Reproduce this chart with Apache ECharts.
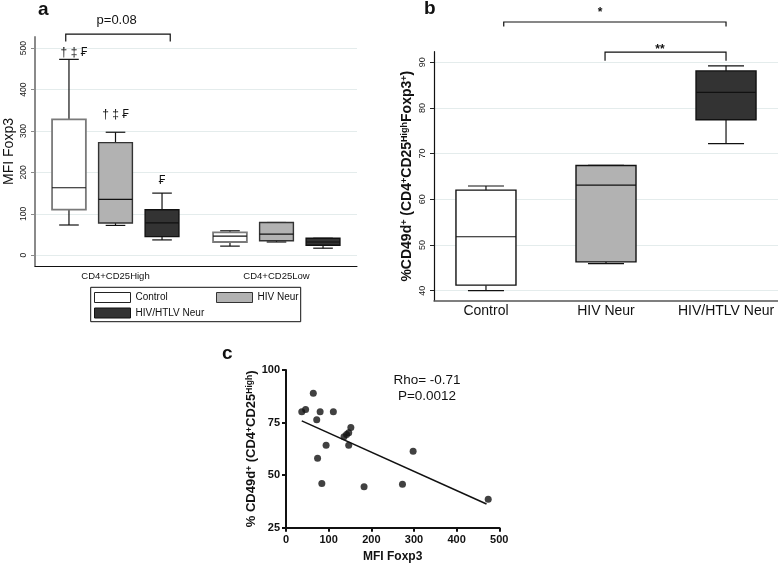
<!DOCTYPE html>
<html><head><meta charset="utf-8">
<script src="https://cdn.jsdelivr.net/npm/echarts@6/dist/echarts.min.js"></script>
<style>html,body{margin:0;padding:0;background:#fff}#c{width:778px;height:565px}</style>
</head><body><div id="c"></div>
<script>
// ---------- Panel a ----------
const groupsA = ['CD4+CD25High', 'CD4+CD25Low'];
const seriesNamesA = ['Control', 'HIV Neur', 'HIV/HTLV Neur'];
// [low whisker, Q1, median, Q3, high whisker] per group
const controlA = [[73, 110, 163, 328, 473], [22, 32, 46, 55, 59]];
const hivA     = [[72, 78, 135, 272, 297], [32, 35, 51, 79, 79]];
const htlvA    = [[37, 45, 78, 110, 150], [17, 24, 32, 41, 41]];
const ticksA   = [0, 100, 200, 300, 400, 500];
// ---------- Panel b ----------
const groupsB = ['Control', 'HIV Neur', 'HIV/HTLV Neur'];
const boxesB  = [[40, 41.2, 51.8, 62, 62.9], [45.9, 46.3, 63.1, 67.4, 67.4], [72.2, 77.4, 83.4, 88.1, 89.2]];
const ticksB  = [40, 50, 60, 70, 80, 90];
// ---------- Panel c ----------
const mfiC  = [37, 46, 64, 80, 72, 111, 74, 94, 84, 136, 142, 147, 152, 147, 183, 273, 298, 474];
const cd49C = [80.2, 81.2, 89, 80.1, 76.3, 80.1, 58, 64.2, 46, 68.3, 69.3, 70.2, 72.6, 64.2, 44.5, 45.7, 61.4, 38.5];
const fitX  = [37, 470];
const fitY  = [75.8, 36.3];

const FONT = "'Liberation Sans', Arial, Helvetica, sans-serif";
const chart = echarts.init(document.getElementById('c'), null, {renderer: 'canvas'});

function boxRenderer(o) {
  return function (params, api) {
    const x = api.value(0);
    const pL = api.coord([x, api.value(1)]);
    const yQ1 = api.coord([x, api.value(2)])[1];
    const yMed = api.coord([x, api.value(3)])[1];
    const yQ3 = api.coord([x, api.value(4)])[1];
    const yH = api.coord([x, api.value(5)])[1];
    const band = api.size([1, 0])[0];
    const cx = pL[0] + o.offset * band;
    const w = o.width * band;
    const cw = w * o.cap / 2;
    const fill = Array.isArray(o.fill) ? o.fill[params.dataIndex] : o.fill;
    const stroke = Array.isArray(o.stroke) ? o.stroke[params.dataIndex] : o.stroke;
    const ws = {stroke: '#111', lineWidth: 1.2};
    return {type: 'group', children: [
      {type: 'line', shape: {x1: cx, y1: pL[1], x2: cx, y2: yQ1}, style: ws},
      {type: 'line', shape: {x1: cx, y1: yH, x2: cx, y2: yQ3}, style: ws},
      {type: 'line', shape: {x1: cx - cw, y1: pL[1], x2: cx + cw, y2: pL[1]}, style: ws},
      {type: 'line', shape: {x1: cx - cw, y1: yH, x2: cx + cw, y2: yH}, style: ws},
      {type: 'rect', shape: {x: cx - w / 2, y: yQ3, width: w, height: yQ1 - yQ3},
        style: {fill: fill, stroke: stroke, lineWidth: o.lw}},
      {type: 'line', shape: {x1: cx - w / 2, y1: yMed, x2: cx + w / 2, y2: yMed}, style: {stroke: '#111', lineWidth: 1.2}}
    ]};
  };
}
const toData = arr => arr.map((b, i) => [i, ...b]);

const fillsA = ['#ffffff', '#b2b2b2', '#333333'];
const strokesA = ['#7a7a7a', '#333333', '#111111'];
const offsetsA = [-0.289, 0, 0.289];
const dataA = [controlA, hivA, htlvA];

const seriesA = seriesNamesA.map((n, k) => ({
  name: n, type: 'custom', xAxisIndex: 0, yAxisIndex: 0,
  renderItem: boxRenderer({offset: offsetsA[k], width: 0.21, cap: 0.58, fill: fillsA[k], stroke: strokesA[k], lw: k === 0 ? 1.8 : 1.4}),
  encode: {x: 0, y: [1, 2, 3, 4, 5]},
  itemStyle: {color: fillsA[k], borderColor: '#111'},
  data: toData(dataA[k])
}));

const rich = (big, small) => ({
  n: {fontSize: big, fontWeight: 'bold', fontFamily: FONT, color: '#111'},
  s: {fontSize: small, fontWeight: 'bold', fontFamily: FONT, color: '#111', verticalAlign: 'top'}
});

const legendBase = {itemWidth: 36, itemHeight: 10, padding: 0, selectedMode: false,
  textStyle: {fontSize: 10, color: '#111', fontFamily: FONT}};

const option = {
  animation: false,
  backgroundColor: '#fff',
  textStyle: {fontFamily: FONT},
  grid: [
    {left: 35, top: 37, width: 322, height: 229},
    {left: 434, top: 51.7, width: 344, height: 249},
    {left: 286, top: 370, width: 213.3, height: 157.7}
  ],
  legend: [
    Object.assign({left: 94, top: 292, data: [{name: 'Control', icon: 'rect', itemStyle: {color: '#fff', borderColor: '#222', borderWidth: 1}}]}, legendBase),
    Object.assign({left: 216, top: 292, data: [{name: 'HIV Neur', icon: 'rect', itemStyle: {color: '#b2b2b2', borderColor: '#333', borderWidth: 1}}]}, legendBase),
    Object.assign({left: 94, top: 307.5, data: [{name: 'HIV/HTLV Neur', icon: 'rect', itemStyle: {color: '#333', borderColor: '#111', borderWidth: 1}}]}, legendBase)
  ],
  xAxis: [
    {gridIndex: 0, type: 'category', data: groupsA,
      axisLine: {onZero: false, lineStyle: {color: '#111', width: 1}}, axisTick: {show: false},
      axisLabel: {fontSize: 9.5, color: '#111', margin: 5}, splitLine: {show: false}},
    {gridIndex: 1, type: 'value', min: 0.567, max: 3.433,
      axisLine: {show: true, onZero: false, lineStyle: {color: '#555', width: 1.5}}, axisTick: {show: false},
      axisLabel: {customValues: [1, 2, 3], formatter: v => groupsB[Math.round(v) - 1], fontSize: 14, color: '#111', margin: 3},
      splitLine: {show: false}},
    {gridIndex: 2, type: 'value', min: 0, max: 500, interval: 100,
      axisLine: {show: true, onZero: false, lineStyle: {color: '#111', width: 2}},
      axisTick: {show: true, length: 4, lineStyle: {color: '#111', width: 2}},
      axisLabel: {fontSize: 11, fontWeight: 'bold', color: '#111', margin: 7},
      splitLine: {show: false},
      name: 'MFI Foxp3', nameLocation: 'middle', nameGap: 23,
      nameTextStyle: {fontSize: 12, fontWeight: 'bold', color: '#111'}}
  ],
  yAxis: [
    {gridIndex: 0, type: 'value', min: -26, max: 527,
      axisLine: {show: true, onZero: false, lineStyle: {color: '#8a8a8a', width: 2}},
      axisTick: {show: true, length: 4, customValues: ticksA, lineStyle: {color: '#8a8a8a'}},
      axisLabel: {customValues: ticksA, rotate: 90, fontSize: 8.5, color: '#222', margin: 7},
      splitLine: {show: true, lineStyle: {color: '#e4ecec', width: 1}},
      name: 'MFI Foxp3', nameLocation: 'middle', nameGap: 19,
      nameTextStyle: {fontSize: 14, color: '#111'}},
    {gridIndex: 1, type: 'value', min: 37.8, max: 92.3,
      axisLine: {show: true, onZero: false, lineStyle: {color: '#111', width: 1.2}},
      axisTick: {show: true, length: 4, customValues: ticksB, lineStyle: {color: '#222'}},
      axisLabel: {customValues: ticksB, rotate: 90, fontSize: 9, color: '#222', margin: 7},
      splitLine: {show: true, lineStyle: {color: '#e4ecec', width: 1}},
      name: '{n|%CD49d}{s|+}{n| (CD4}{s|+}{n|CD25}{s|High}{n|Foxp3}{s|+}{n|)}',
      nameLocation: 'middle', nameGap: 20,
      nameTextStyle: {fontSize: 14, fontWeight: 'bold', color: '#111', rich: rich(14, 9)}},
    {gridIndex: 2, type: 'value', min: 25, max: 100, interval: 25,
      axisLine: {show: true, onZero: false, lineStyle: {color: '#111', width: 2}},
      axisTick: {show: true, length: 4, lineStyle: {color: '#111', width: 2}},
      axisLabel: {fontSize: 11, fontWeight: 'bold', color: '#111', margin: 6},
      splitLine: {show: false},
      name: '{n|% CD49d}{s|+}{n| (CD4}{s|+}{n|CD25}{s|High}{n|)}',
      nameLocation: 'middle', nameGap: 27,
      nameTextStyle: {fontSize: 13, fontWeight: 'bold', color: '#111', rich: rich(13, 8.5)}}
  ],
  series: seriesA.concat([
    {name: 'panelB', type: 'custom', xAxisIndex: 1, yAxisIndex: 1,
      renderItem: boxRenderer({offset: 0, width: 0.5, cap: 0.6, fill: ['#ffffff', '#b2b2b2', '#333333'], stroke: '#111', lw: 1.4}),
      encode: {x: 0, y: [1, 2, 3, 4, 5]},
      data: boxesB.map((b, i) => [i + 1, ...b])},
    {name: 'scatterC', type: 'scatter', xAxisIndex: 2, yAxisIndex: 2, symbolSize: 7,
      itemStyle: {color: '#111'}, data: mfiC.map((x, i) => [x, cd49C[i]])},
    {name: 'fitC', type: 'line', xAxisIndex: 2, yAxisIndex: 2, showSymbol: false, symbol: 'none',
      lineStyle: {color: '#111', width: 1.6}, data: fitX.map((x, i) => [x, fitY[i]])}
  ])
};
chart.setOption(option);

// ---------- annotations anchored to the axes ----------
function P(g, x, y) { return chart.convertToPixel({gridIndex: g}, [x, y]); }
const bandA = P(0, 1, 0)[0] - P(0, 0, 0)[0];
const bandB = P(1, 2, 40)[0] - P(1, 1, 40)[0];
const gr = [];
function txt(p, s, size, weight, align) {
  gr.push({type: 'text', x: p[0], y: p[1], style: {text: s, fontSize: size, fontWeight: weight || 'normal',
    fontFamily: "'Liberation Sans', 'DejaVu Sans', Arial, sans-serif", fill: '#111', align: align || 'center', verticalAlign: 'middle'}});
}
function bracket(p1, p2, drop) {
  gr.push({type: 'polyline', shape: {points: [[p1[0], p1[1] + drop], [p1[0], p1[1]], [p2[0], p1[1]], [p2[0], p1[1] + drop]]},
    style: {stroke: '#111', lineWidth: 1.2, fill: null}});
}
// panel a
const symA = [{frac: -0.258, val: 490, t: '† ‡ ₣'}, {frac: 0, val: 340, t: '† ‡ ₣'}, {frac: 0.289, val: 180, t: '₣'}];
symA.forEach(s => { const p = P(0, 0, s.val); txt([p[0] + s.frac * bandA, p[1]], s.t, 12); });
const pa = P(0, 0, 534);
bracket([pa[0] - 0.309 * bandA, pa[1]], [pa[0] + 0.34 * bandA, pa[1]], 7.4);
const pt = P(0, 0, 568); txt([pt[0] + 0.007 * bandA, pt[1]], 'p=0.08', 13);
// panel b
const b1 = P(1, 1, 98.8), b2 = P(1, 3, 98.8);
bracket([b1[0] + 0.148 * bandB, b1[1]], b2, 4.5);
const s1 = P(1, 2, 100.77); txt([s1[0] - 0.05 * bandB, s1[1]], '*', 12, 'bold');
const c1 = P(1, 2, 92.2), c2 = P(1, 3, 92.2);
bracket([c1[0] - 0.008 * bandB, c1[1]], c2, 8.7);
const s2 = P(1, 2, 92.67); txt([s2[0] + 0.45 * bandB, s2[1]], '**', 12, 'bold');
// panel c
txt(P(2, 330.5, 95.3), 'Rho= -0.71', 13.5);
txt(P(2, 330.5, 87.4), 'P=0.0012', 13.5);
// panel letters and legend frame
gr.push({type: 'text', x: 38, y: 10, style: {text: 'a', fontSize: 19, fontWeight: 'bold', fontFamily: FONT, fill: '#111', verticalAlign: 'middle'}});
gr.push({type: 'text', x: 424, y: 9, style: {text: 'b', fontSize: 19, fontWeight: 'bold', fontFamily: FONT, fill: '#111', verticalAlign: 'middle'}});
gr.push({type: 'text', x: 222, y: 354, style: {text: 'c', fontSize: 19, fontWeight: 'bold', fontFamily: FONT, fill: '#111', verticalAlign: 'middle'}});
gr.push({type: 'rect', shape: {x: 90.7, y: 287.3, width: 210, height: 34.4}, style: {fill: null, stroke: '#111', lineWidth: 1}});
chart.setOption({graphic: gr});
</script></body></html>
